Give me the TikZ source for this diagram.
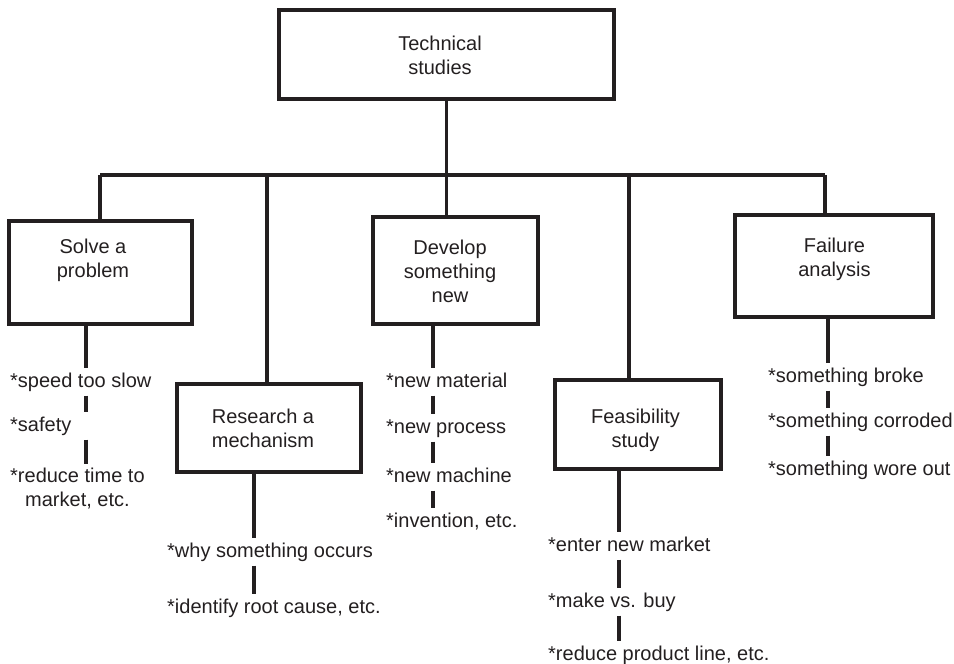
\documentclass[tikz,border=0pt]{standalone}
\usepackage{fontspec}
\setmainfont{Liberation Sans}
\definecolor{inkc}{RGB}{35,31,32}
\begin{document}
\begin{tikzpicture}[x=1pt,y=-1pt,
  link/.style={draw=inkc, line width=3.2pt},
  box/.style={draw=inkc, line width=3.2pt, rectangle, inner sep=0pt},
  boxtext/.style={align=center, font=\fontsize{20}{24}\selectfont, text=inkc, inner sep=0pt},
  item/.style={anchor=base west, font=\fontsize{20}{24}\selectfont, text=inkc,
    inner xsep=0pt, inner ysep=4pt, text height=14.5pt, text depth=4.5pt},
  itemtwo/.style={anchor=north west, align=center, font=\fontsize{20}{24}\selectfont,
    text=inkc, inner xsep=0pt, inner ysep=4pt},
]
\useasboundingbox (0,0) rectangle (954,664);

% boxes
\node[box, minimum width=335pt, minimum height=89pt] (top) at (446.5,54.5) {};
\node[boxtext] (topT) at (440,55) {Technical\\studies};

\node[box, minimum width=183pt, minimum height=103pt] (solve) at (100.5,272.5) {};
\node[boxtext] (solveT) at (93,260) {Solve a\\problem};

\node[box, minimum width=184pt, minimum height=88pt] (research) at (269,428) {};
\node[boxtext] (researchT) at (263,428.5) {Research a\\mechanism};

\node[box, minimum width=165pt, minimum height=107pt] (develop) at (455.5,270.5) {};
\node[boxtext] (developT) at (450,271) {Develop\\something\\new};

\node[box, minimum width=166pt, minimum height=89pt] (feas) at (638,424.5) {};
\node[boxtext] (feasT) at (635.5,430) {Feasibility\\study};

\node[box, minimum width=198pt, minimum height=102pt] (fail) at (834,266) {};
\node[boxtext] (failT) at (834.5,259.5) {Failure\\analysis};

% junctions on the bus
\coordinate (jSolve) at (100,175);
\coordinate (jRes) at (267,175);
\coordinate (jFeas) at (629,175);
\coordinate (jFail) at (825,175);

% tree connectors
\draw[link] (top.south) -- (top.south |- develop.north);
\draw[link] (jSolve) -- (jFail);
\draw[link] (jSolve) -- (jSolve |- solve.north);
\draw[link] (jRes) -- (jRes |- research.north);
\draw[link] (jFeas) -- (jFeas |- feas.north);
\draw[link] (jFail) -- (jFail |- fail.north);

% item lists
\node[item] (s1) at (10,387) {*speed too slow};
\node[item] (s2) at (10,431) {*safety};
\node[itemtwo] (s3) at (10,464) {*reduce time to\\market, etc.};

\node[item] (r1) at (167,557) {*why something occurs};
\node[item] (r2) at (167,613) {*identify root cause, etc.};

\node[item] (d1) at (386,387) {*new material};
\node[item] (d2) at (386,433) {*new process};
\node[item] (d3) at (386,482) {*new machine};
\node[item] (d4) at (386,527) {*invention, etc.};

\node[item] (f1) at (548,551) {*enter new market};
\node[item] (f2) at (548,607) {*make vs. buy};
\node[item] (f3) at (548,660) {*reduce product line, etc.};

\node[item] (a1) at (768,382) {*something broke};
\node[item] (a2) at (768,427) {*something corroded};
\node[item] (a3) at (768,475) {*something wore out};

% list stems and dashes
\coordinate (xS) at (86,0);
\coordinate (xR) at (254,0);
\coordinate (xD) at (433,0);
\coordinate (xF) at (619,0);
\coordinate (xA) at (828,0);

\draw[link] (solve.south -| xS) -- (s1.north -| xS);
\draw[link] (s1.south -| xS) -- (s2.north -| xS);
\draw[link] (s2.south -| xS) -- (s3.north -| xS);

\draw[link] (research.south -| xR) -- (r1.north -| xR);
\draw[link] (r1.south -| xR) -- (r2.north -| xR);

\draw[link] (develop.south -| xD) -- (d1.north -| xD);
\draw[link] (d1.south -| xD) -- (d2.north -| xD);
\draw[link] (d2.south -| xD) -- (d3.north -| xD);
\draw[link] (d3.south -| xD) -- (d4.north -| xD);

\draw[link] (feas.south -| xF) -- (f1.north -| xF);
\draw[link] (f1.south -| xF) -- (f2.north -| xF);
\draw[link] (f2.south -| xF) -- (f3.north -| xF);

\draw[link] (fail.south -| xA) -- (a1.north -| xA);
\draw[link] (a1.south -| xA) -- (a2.north -| xA);
\draw[link] (a2.south -| xA) -- (a3.north -| xA);
\end{tikzpicture}
\end{document}
